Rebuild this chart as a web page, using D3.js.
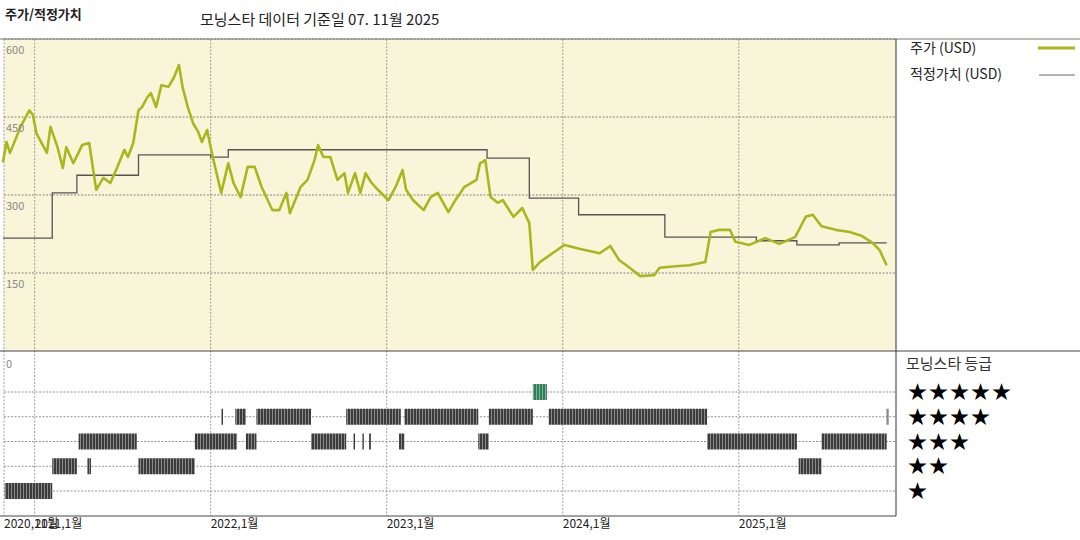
<!DOCTYPE html>
<html><head><meta charset="utf-8">
<script src="https://cdn.jsdelivr.net/npm/d3@7"></script>
<style>body{margin:0;background:#fff}text{font-family:"Noto Sans CJK KR","DejaVu Sans",sans-serif}</style>
</head><body><svg id="c" width="1080" height="540"></svg>
<script>
const priceT=[2020.82,2020.84,2020.86,2020.92,2020.97,2020.99,2021.01,2021.03,2021.07,2021.09,2021.13,2021.16,2021.18,2021.22,2021.27,2021.31,2021.33,2021.35,2021.39,2021.43,2021.47,2021.51,2021.53,2021.56,2021.59,2021.61,2021.64,2021.66,2021.69,2021.72,2021.76,2021.79,2021.82,2021.84,2021.87,2021.90,2021.93,2021.95,2021.98,2022.00,2022.02,2022.06,2022.10,2022.13,2022.17,2022.21,2022.25,2022.29,2022.35,2022.39,2022.43,2022.45,2022.51,2022.55,2022.59,2022.61,2022.64,2022.68,2022.72,2022.76,2022.78,2022.82,2022.85,2022.88,2022.91,2022.95,2023.01,2023.05,2023.09,2023.11,2023.15,2023.21,2023.25,2023.29,2023.35,2023.39,2023.44,2023.51,2023.53,2023.56,2023.59,2023.63,2023.66,2023.72,2023.77,2023.81,2023.83,2023.87,2023.95,2024.01,2024.10,2024.21,2024.27,2024.32,2024.38,2024.44,2024.52,2024.55,2024.64,2024.72,2024.81,2024.84,2024.89,2024.95,2024.98,2025.06,2025.15,2025.23,2025.32,2025.38,2025.42,2025.47,2025.55,2025.63,2025.70,2025.76,2025.80,2025.84];
const priceV=[363,402,381,431,463,454,419,406,381,431,392,352,392,361,396,400,354,310,333,323,354,387,373,400,463,469,488,496,469,511,508,525,550,508,469,438,421,402,425,392,361,304,361,323,296,354,354,315,271,271,304,265,315,329,367,396,373,373,329,342,304,342,304,342,325,310,290,315,348,310,290,271,296,304,267,290,315,329,361,367,296,285,290,258,275,246,156,171,190,204,196,188,202,175,160,144,146,160,163,165,171,229,233,233,210,204,217,206,219,258,262,240,233,229,221,208,194,165];
const fairT=[2020.82,2021.10,2021.24,2021.59,2022.00,2022.10,2023.57,2023.81,2024.09,2024.58,2025.10,2025.33,2025.57,2025.84];
const fairV=[217,304,338,377,373,387,371,294,262,219,212,204,208,208];
const ratingStars=[1,2,2,2,2,3,3,3,3,3,3,3,3,3,3,3,4,4,4,4,4,4,4,4,5];
const ratingStart=[2020.83,2021.10,2021.30,2021.59,2025.34,2021.25,2021.91,2022.20,2022.57,2022.81,2022.86,2022.90,2023.07,2023.52,2024.82,2025.47,2022.06,2022.14,2022.26,2022.77,2023.10,2023.58,2023.92,2025.84,2023.83];
const ratingEnd=[2021.10,2021.24,2021.32,2021.91,2025.47,2021.58,2022.15,2022.26,2022.77,2022.82,2022.87,2022.91,2023.10,2023.58,2025.33,2025.84,2022.07,2022.20,2022.57,2023.08,2023.52,2023.83,2024.82,2025.85,2023.91];
const yTicks=[600,450,300,150];
const xTicks=[2021,2022,2023,2024,2025];
const xLabels=["2021,1월","2022,1월","2023,1월","2024,1월","2025,1월"];

const svg=d3.select("#c");
const L=4,R=896,T=39,PB=351,RB=516;
const x=d3.scaleLinear().domain([2020.826,2025.893]).range([L,R]);
const y=d3.scaleLinear().domain([0,600]).range([PB,T]);
const ry=d3.scaleLinear().domain([5,1]).range([392,491]);

svg.append("rect").attr("x",L).attr("y",T).attr("width",R-L).attr("height",PB-T).attr("fill","#f9f5d9");
const dash="2,1.5";
yTicks.forEach(v=>svg.append("line").attr("x1",L).attr("x2",R).attr("y1",y(v)).attr("y2",y(v)).attr("stroke","#666").attr("stroke-dasharray",dash).attr("stroke-width",0.8));
[5,4,3,2,1].forEach(v=>svg.append("line").attr("x1",L).attr("x2",R).attr("y1",ry(v)).attr("y2",ry(v)).attr("stroke","#777").attr("stroke-dasharray",dash).attr("stroke-width",0.8));
xTicks.concat([2020.826]).forEach(t=>svg.append("line").attr("x1",x(t)).attr("x2",x(t)).attr("y1",T).attr("y2",RB).attr("stroke","#888").attr("stroke-dasharray",dash).attr("stroke-width",0.8));

const defs=svg.append("defs");
const pat=defs.append("pattern").attr("id","st").attr("patternUnits","userSpaceOnUse").attr("width",3).attr("height",20);
pat.append("rect").attr("width",3).attr("height",20).attr("fill","#3c3c3c");
pat.append("rect").attr("x",2).attr("width",1).attr("height",20).attr("fill","#8a8a8a");
const pat2=defs.append("pattern").attr("id","sg").attr("patternUnits","userSpaceOnUse").attr("width",3).attr("height",20);
pat2.append("rect").attr("width",3).attr("height",20).attr("fill","#2f7d5a");
pat2.append("rect").attr("x",2).attr("width",1).attr("height",20).attr("fill","#7fb59a");
ratingStars.forEach((s,i)=>{
  const x0=x(ratingStart[i]),x1=Math.max(x(ratingEnd[i]),x0+1.5);
  svg.append("rect").attr("x",x0).attr("y",ry(s)-8).attr("width",x1-x0).attr("height",16)
    .attr("fill",s===5?"url(#sg)":"url(#st)");
});

svg.append("path").datum(fairT.map((t,i)=>[t,fairV[i]])).attr("d",d3.line().x(d=>x(d[0])).y(d=>y(d[1])).curve(d3.curveStepAfter))
  .attr("fill","none").attr("stroke","#555").attr("stroke-width",1.3);
svg.append("path").datum(priceT.map((t,i)=>[t,priceV[i]])).attr("d",d3.line().x(d=>x(d[0])).y(d=>y(d[1])))
  .attr("fill","none").attr("stroke","#a9b71e").attr("stroke-width",2.6).attr("stroke-linejoin","round");

svg.append("line").attr("x1",0).attr("x2",1080).attr("y1",T).attr("y2",T).attr("stroke","#777");
svg.append("line").attr("x1",0).attr("x2",1080).attr("y1",PB).attr("y2",PB).attr("stroke","#444");
svg.append("line").attr("x1",0).attr("x2",R).attr("y1",RB).attr("y2",RB).attr("stroke","#444");
svg.append("line").attr("x1",R).attr("x2",R).attr("y1",T).attr("y2",RB).attr("stroke","#333");

yTicks.forEach(v=>svg.append("text").attr("x",6).attr("y",y(v)+15).attr("font-size",11).attr("fill","#888").text(v));
svg.append("text").attr("x",6).attr("y",368).attr("font-size",11).attr("fill","#888").text("0");
svg.append("text").attr("x",4).attr("y",528).attr("font-size",12).attr("fill","#222").text("2020,11월");
xTicks.forEach((t,i)=>svg.append("text").attr("x",x(t)).attr("y",528).attr("font-size",12).attr("fill","#222").text(xLabels[i]));

svg.append("text").attr("x",5).attr("y",19).attr("font-size",13).attr("font-weight","bold").attr("fill","#222").text("주가/적정가치");
svg.append("text").attr("x",200).attr("y",25).attr("font-size",15).attr("fill","#222").text("모닝스타 데이터 기준일 07. 11월 2025");

svg.append("text").attr("x",910).attr("y",53).attr("font-size",14).attr("fill","#222").text("주가 (USD)");
svg.append("line").attr("x1",1038).attr("x2",1075).attr("y1",48).attr("y2",48).attr("stroke","#a9b71e").attr("stroke-width",3);
svg.append("text").attr("x",910).attr("y",79).attr("font-size",14).attr("fill","#222").text("적정가치 (USD)");
svg.append("line").attr("x1",1039).attr("x2",1075).attr("y1",75).attr("y2",75).attr("stroke","#666").attr("stroke-width",1.2);
svg.append("text").attr("x",906).attr("y",369).attr("font-size",15).attr("fill","#333").text("모닝스타 등급");
[5,4,3,2,1].forEach(s=>svg.append("text").attr("x",908).attr("y",ry(s)+7).attr("font-size",19).attr("letter-spacing",2).attr("font-family","DejaVu Sans").attr("fill","#000").text("★".repeat(s)));
</script></body></html>
